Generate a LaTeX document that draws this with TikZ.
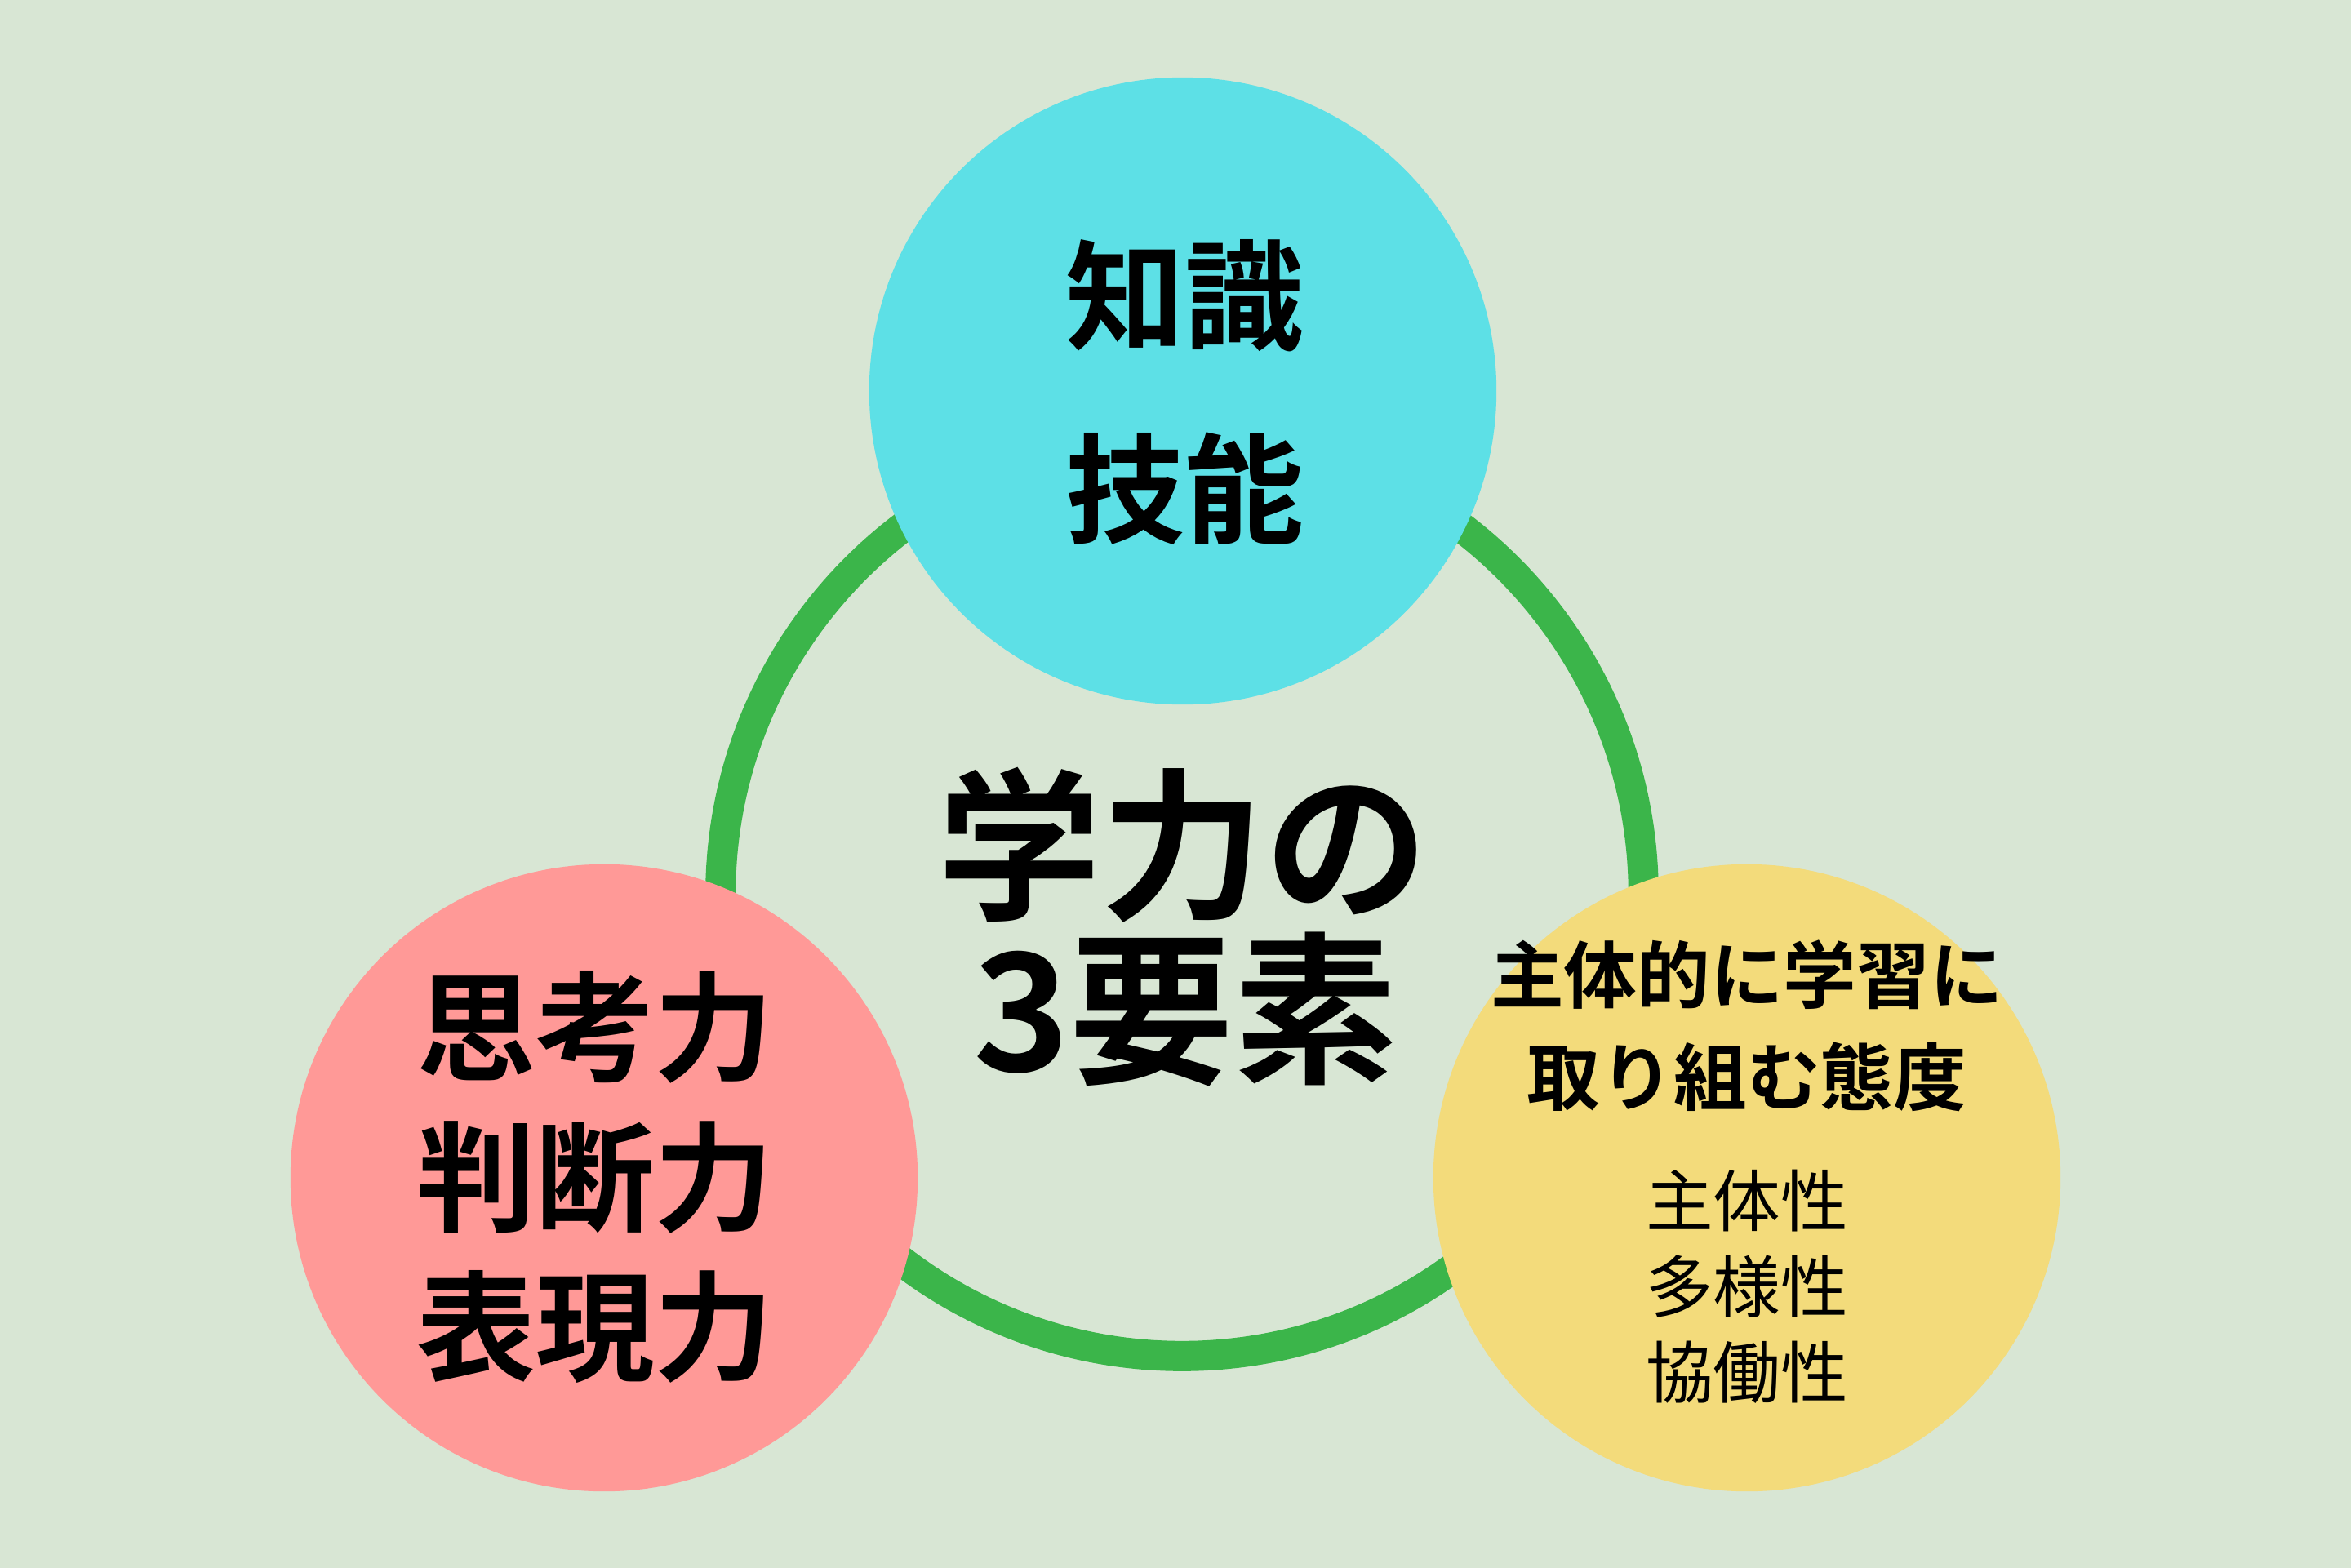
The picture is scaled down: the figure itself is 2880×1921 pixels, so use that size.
\documentclass[tikz,border=0pt]{standalone}
\usepackage{fontspec}
\newfontfamily\jp{Noto Sans CJK JP}[BoldFont={Noto Sans CJK JP Bold}]
\definecolor{bgc}{HTML}{D8E6D4}
\definecolor{ringc}{HTML}{3BB54A}
\definecolor{bluec}{HTML}{5DE0E6}
\definecolor{pinkc}{HTML}{FF9997}
\definecolor{yellowc}{HTML}{F3DB7B}
\tikzset{
  blob/.style={circle, inner sep=0pt, minimum size=7.68cm},
  bigtxt/.style={font=\jp\bfseries\fontsize{57}{57}\selectfont, inner sep=0pt},
  midtxt/.style={font=\jp\bfseries\fontsize{41.5}{41.5}\selectfont, inner sep=0pt},
  smbtxt/.style={font=\jp\bfseries\fontsize{25.5}{25.5}\selectfont, inner sep=0pt},
  smtxt/.style={font=\jp\fontsize{23.5}{23.5}\selectfont, inner sep=0pt}
}
\begin{document}
\begin{tikzpicture}[x=0.01cm,y=-0.01cm]
\fill[bgc] (0,0) rectangle (2880,1921);
\useasboundingbox (0,0) rectangle (2880,1921);
\draw[ringc, line width=0.37cm] (1448,1096) circle (5.65cm);
\node[blob, fill=bluec] (know) at (1449,479) {};
\node[blob, fill=pinkc] (think) at (740,1443) {};
\node[blob, fill=yellowc] (att) at (2140,1443) {};
% center
\node[bigtxt] (c1) at (1449,1035) {学力の};
\node[bigtxt] (c2) at (1452,1237) {3要素};
% blue
\node[midtxt] (k1) at (1451,362) {知識};
\node[midtxt] (k2) at (1451,599) {技能};
% pink
\node[midtxt] (t1) at (729,1258) {思考力};
\node[midtxt] (t2) at (729,1442) {判断力};
\node[midtxt] (t3) at (729,1625) {表現力};
% yellow
\node[smbtxt] (a1) at (2140,1194) {主体的に学習に};
\node[smbtxt] (a2) at (2140,1319) {取り組む態度};
\node[smtxt] (a3) at (2140,1471) {主体性};
\node[smtxt] (a4) at (2140,1576) {多様性};
\node[smtxt] (a5) at (2140,1681) {協働性};
\end{tikzpicture}
\end{document}
